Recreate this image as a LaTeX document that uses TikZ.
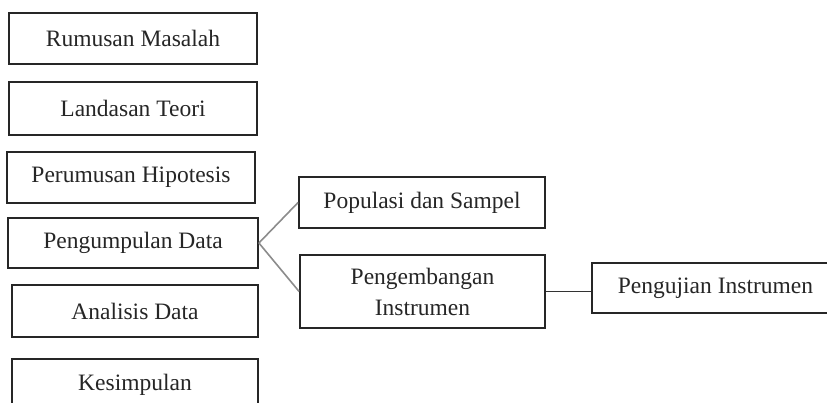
\documentclass[tikz,border=0pt]{standalone}
\usepackage{fontspec}
\setmainfont{Liberation Serif}
\begin{document}
\begin{tikzpicture}[x=1pt,y=-1pt,
  box/.style={draw=black!85, line width=1.8pt, fill=white, inner sep=0pt, align=center,
    font=\fontsize{23.5}{31}\selectfont, text=black!85},
  link/.style={draw=black!45, line width=1.6pt},
  linkdark/.style={draw=black!80, line width=1.2pt}]
\clip (0,0) rectangle (827,403);
\fill[white] (0,0) rectangle (827,403);
\node[box, minimum width=248, minimum height=51] (rm) at (133,38.5) {Rumusan Masalah};
\node[box, minimum width=248, minimum height=53] (lt) at (133,108.5) {Landasan Teori};
\node[box, minimum width=248, minimum height=51] (ph) at (131,177.5) {Perumusan Hipotesis};
\node[box, minimum width=250, minimum height=50] (pd) at (133,243) {Pengumpulan Data};
\node[box, minimum width=246, minimum height=52] (ad) at (135,311) {Analisis Data};
\node[box, minimum width=246, minimum height=56, text depth=10pt] (ks) at (135,387) {Kesimpulan};
\node[box, minimum width=246, minimum height=51] (ps) at (422,202.5) {Populasi dan Sampel};
\node[box, minimum width=245, minimum height=73] (pi) at (422.5,291.5) {Pengembangan\\Instrumen};
\node[box, minimum width=247, minimum height=50] (pj) at (715.5,288) {Pengujian Instrumen};
\draw[link] (pd.east) -- (ps.west);
\draw[link] (pd.east) -- (pi.west);
\draw[linkdark] (pi.east) -- (pi.east -| pj.west);
\end{tikzpicture}
\end{document}
